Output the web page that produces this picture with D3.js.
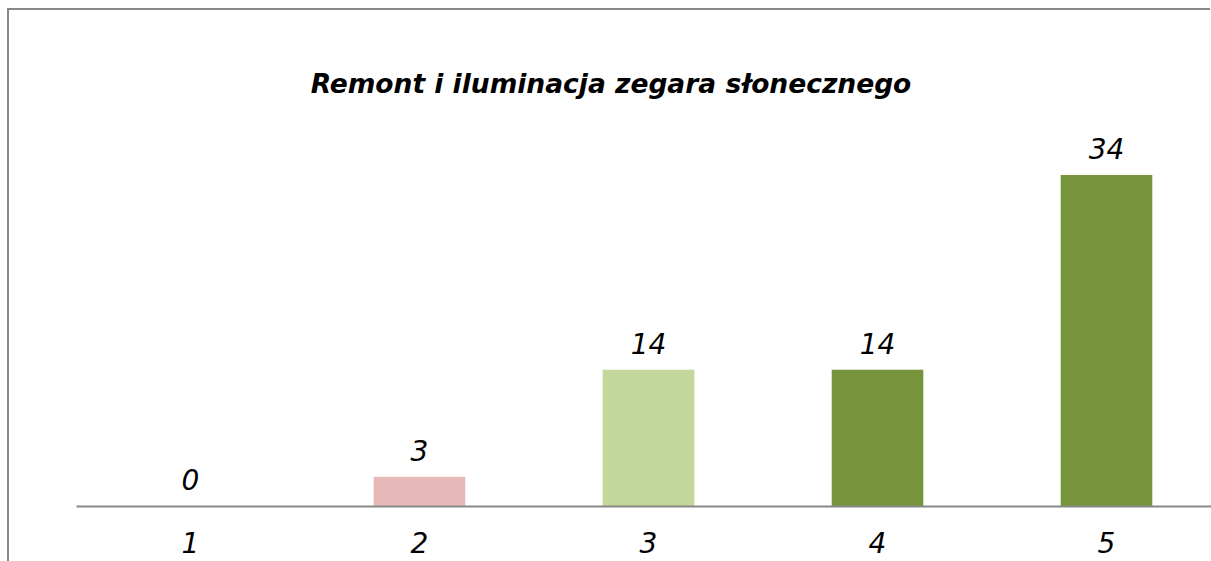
<!DOCTYPE html>
<html>
<head>
<meta charset="utf-8">
<script src="https://cdn.jsdelivr.net/npm/d3@7"></script>
<style>
  body { margin: 0; background: #fff; }
  svg { display: block; }
  text { font-family: "DejaVu Sans", Verdana, sans-serif; font-style: italic; }
</style>
</head>
<body>
<div id="chart"></div>
<script>
var categories = ["1", "2", "3", "4", "5"];
var values = [0, 3, 14, 14, 34];
var colors = ["#e6b9b8", "#e6b9b8", "#c4d79b", "#77933c", "#77933c"];
var title = "Remont i iluminacja zegara słonecznego";

var width = 1211, height = 561;
var axisY = 506;

var svg = d3.select("#chart").append("svg")
    .attr("width", width)
    .attr("height", height);

// frame (left and top edges only are visible)
svg.append("line")
    .attr("x1", 8).attr("x2", 8).attr("y1", 9).attr("y2", height)
    .attr("stroke", "#888").attr("stroke-width", 2);
svg.append("line")
    .attr("x1", 7).attr("x2", 1210).attr("y1", 9).attr("y2", 9)
    .attr("stroke", "#888").attr("stroke-width", 2);

svg.append("text")
    .attr("x", 611).attr("y", 93)
    .attr("text-anchor", "middle")
    .style("font-weight", "bold")
    .style("font-size", "26.5px")
    .text(title);

var x = d3.scaleBand()
    .domain(categories)
    .range([76, 1221])
    .paddingInner(0.6)
    .paddingOuter(0.3);

var y = d3.scaleLinear()
    .domain([0, 34])
    .range([axisY, 175]);

svg.selectAll("rect.bar")
    .data(values)
  .enter().append("rect")
    .attr("class", "bar")
    .attr("x", function(d, i) { return x(categories[i]); })
    .attr("width", x.bandwidth())
    .attr("y", function(d) { return y(d); })
    .attr("height", function(d) { return axisY - y(d); })
    .attr("fill", function(d, i) { return colors[i]; });

svg.selectAll("text.val")
    .data(values)
  .enter().append("text")
    .attr("class", "val")
    .attr("x", function(d, i) { return x(categories[i]) + x.bandwidth() / 2; })
    .attr("y", function(d) { return y(d) - 16; })
    .attr("text-anchor", "middle")
    .style("font-size", "28px")
    .text(function(d) { return d; });

// x axis
var xAxis = d3.axisBottom(x).tickSize(0).tickPadding(27);
var gx = svg.append("g")
    .attr("transform", "translate(0," + axisY + ")")
    .call(xAxis);
gx.select(".domain").attr("stroke", "#888").attr("stroke-width", 2);
gx.selectAll("text")
    .style("font-family", "'DejaVu Sans', Verdana, sans-serif")
    .style("font-style", "italic")
    .style("font-size", "28px")
    .attr("fill", "#000");
</script>
</body>
</html>
